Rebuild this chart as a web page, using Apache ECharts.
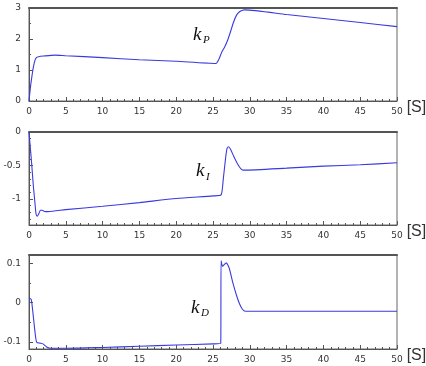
<!DOCTYPE html>
<html><head><meta charset="utf-8">
<script src="https://cdn.jsdelivr.net/npm/echarts@6/dist/echarts.min.js"></script>
<style>html,body{margin:0;padding:0;background:#fff}#c{width:426px;height:366px}</style>
</head><body><div id="c"></div>
<script>
// ---- data ----
var tP = [0, 0.2, 0.4, 0.6, 0.8, 1.0, 1.3, 2, 3.5, 5, 10, 15, 20, 25.4, 25.8, 26.2, 26.6, 27.0, 27.4, 27.8, 28.2, 28.6, 29.0, 29.3, 35, 40, 45, 50];
var kP = [0, 0.45, 0.8, 1.1, 1.3, 1.4, 1.43, 1.45, 1.48, 1.46, 1.40, 1.33, 1.28, 1.21, 1.35, 1.58, 1.75, 1.97, 2.25, 2.55, 2.77, 2.88, 2.93, 2.94, 2.79, 2.66, 2.53, 2.40];

var tI = [0, 0.15, 0.36, 0.6, 0.8, 0.95, 1.1, 1.3, 1.55, 1.8, 2.2, 2.6, 5, 10, 15, 20, 25, 26.1, 26.4, 26.7, 26.9, 27.1, 27.4, 27.8, 28.3, 28.8, 29.2, 35, 40, 45, 50];
var kI = [0, -0.2, -0.47, -0.82, -1.05, -1.22, -1.26, -1.23, -1.17, -1.17, -1.19, -1.19, -1.16, -1.11, -1.055, -0.995, -0.955, -0.94, -0.70, -0.40, -0.25, -0.22, -0.26, -0.36, -0.47, -0.55, -0.57, -0.54, -0.51, -0.49, -0.46];

var tD = [0, 0.3, 0.5, 0.7, 0.9, 1.05, 1.5, 1.9, 2.4, 2.9, 5, 8, 10, 15, 20, 25, 26.05, 26.1, 26.3, 26.55, 26.8, 27.2, 27.7, 28.2, 28.6, 29.0, 29.4, 35, 50];
var kD = [0.012, 0.008, -0.02, -0.055, -0.088, -0.101, -0.103, -0.105, -0.113, -0.116, -0.116, -0.115, -0.114, -0.111, -0.108, -0.105, -0.104, 0.106, 0.092, 0.097, 0.101, 0.088, 0.05, 0.018, -0.003, -0.017, -0.022, -0.022, -0.022];

var xTicks = [0, 5, 10, 15, 20, 25, 30, 35, 40, 45, 50];
var yLabelsP = [0, 1, 2, 3];
var yLabelsI = [-1, -0.5, 0];
var yLabelsD = [-0.1, 0, 0.1];
var yMinorP = [0.5, 1.5, 2.5];
var yMinorI = [-1.3, -1.2, -1.1, -0.9, -0.8, -0.7, -0.6, -0.4, -0.3, -0.2, -0.1];
var yMinorD = [-0.05, 0.05];
var unitLabel = '[S]';

function pairs(t, v) { return t.map(function (x, i) { return [x, v[i]]; }); }

var axisColor = '#555';
var labelStyle = { fontFamily: 'DejaVu Sans', fontSize: 9, color: '#333' };
var grids = [
  { left: 29, width: 368, top: 8, height: 93 },
  { left: 29, width: 368, top: 132, height: 93 },
  { left: 29, width: 368, top: 255, height: 94 }
];
var ranges = [[0, 3], [-1.39, 0], [-0.118, 0.121]];
var labels = [yLabelsP, yLabelsI, yLabelsD];
var minors = [yMinorP, yMinorI, yMinorD];
var seriesData = [pairs(tP, kP), pairs(tI, kI), pairs(tD, kD)];

var xAxes = [], yAxes = [], series = [];
grids.forEach(function (g, i) {
  g.show = true; g.borderColor = '#666'; g.borderWidth = 1; g.backgroundColor = '#fff';
  g.containLabel = false; g.outerBoundsMode = 'none';
  xAxes.push({
    type: 'value', gridIndex: i, min: 0, max: 50, interval: 5, position: 'bottom',
    axisLine: { show: true, onZero: false, lineStyle: { color: axisColor, width: 1 } },
    axisTick: { show: true, inside: true, length: 4, lineStyle: { color: axisColor } },
    minorTick: { show: true, splitNumber: 5, length: 2, lineStyle: { color: axisColor } },
    axisLabel: Object.assign({ margin: 6, customValues: xTicks }, labelStyle),
    splitLine: { show: false },
    name: unitLabel, nameLocation: 'end', nameGap: 9,
    nameTextStyle: { fontFamily: 'Liberation Sans', fontSize: 16, color: '#333', verticalAlign: 'top', padding: [-1, 0, 0, 0] }
  });
  xAxes.push({
    type: 'value', gridIndex: i, min: 0, max: 50, position: 'top',
    axisLine: { show: true, onZero: false, lineStyle: { color: '#555', width: 2 } },
    axisTick: { show: false }, axisLabel: { show: false }, splitLine: { show: false }
  });
  yAxes.push({
    type: 'value', gridIndex: i, min: ranges[i][0], max: ranges[i][1], position: 'left',
    axisLine: { show: true, onZero: false, lineStyle: { color: axisColor, width: 1 } },
    axisTick: { show: true, inside: true, length: 4, customValues: labels[i], lineStyle: { color: axisColor } },
    axisLabel: Object.assign({ margin: 8, customValues: labels[i] }, labelStyle),
    splitLine: { show: false }
  });
  yAxes.push({
    type: 'value', gridIndex: i, min: ranges[i][0], max: ranges[i][1], position: 'left',
    axisLine: { show: false, onZero: false },
    axisTick: { show: true, inside: true, length: 2, customValues: minors[i], lineStyle: { color: axisColor } },
    axisLabel: { show: false }, splitLine: { show: false }
  });
  series.push({
    type: 'line', xAxisIndex: i * 2, yAxisIndex: i * 2, data: seriesData[i],
    showSymbol: false, symbol: 'none', smooth: 0.2, animation: false,
    lineStyle: { color: '#3a3ae0', width: 1.1 }
  });
});

var kFont = 'Liberation Serif';
var graphic = [
  { type: 'text', left: 193, top: 25, style: { text: 'k', font: 'italic 19px "' + kFont + '"', fill: '#111' } },
  { type: 'text', left: 203, top: 35, style: { text: 'P', font: 'italic 11px "' + kFont + '"', fill: '#111' } },
  { type: 'text', left: 196, top: 161, style: { text: 'k', font: 'italic 19px "' + kFont + '"', fill: '#111' } },
  { type: 'text', left: 206, top: 172, style: { text: 'I', font: 'italic 11px "' + kFont + '"', fill: '#111' } },
  { type: 'text', left: 191, top: 298, style: { text: 'k', font: 'italic 19px "' + kFont + '"', fill: '#111' } },
  { type: 'text', left: 201, top: 308, style: { text: 'D', font: 'italic 11px "' + kFont + '"', fill: '#111' } }
];

var chart = echarts.init(document.getElementById('c'), null, { renderer: 'canvas' });
chart.setOption({
  animation: false,
  backgroundColor: '#fff',
  grid: grids, xAxis: xAxes, yAxis: yAxes, series: series, graphic: graphic
});
</script></body></html>
